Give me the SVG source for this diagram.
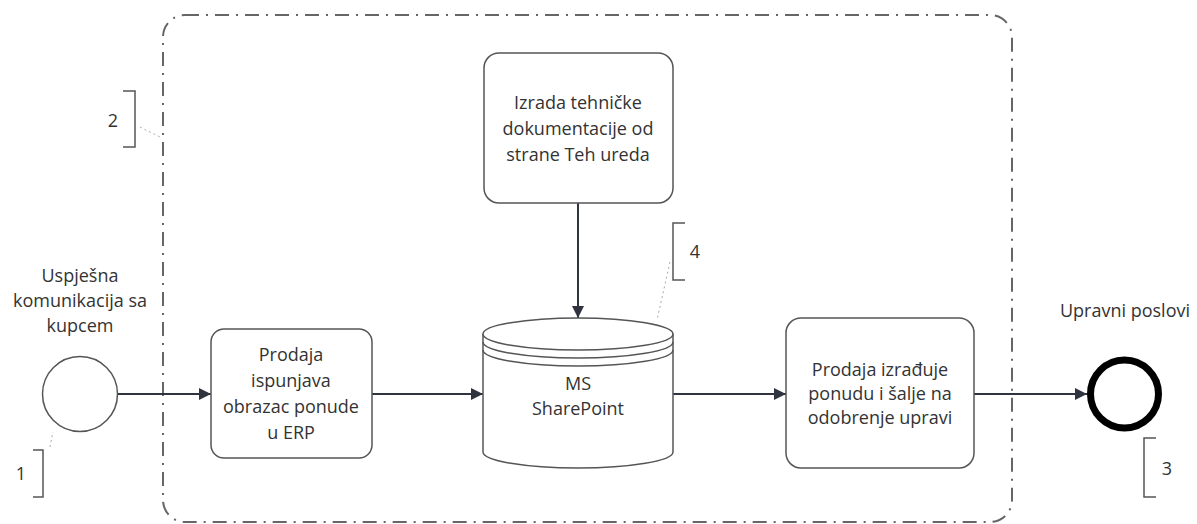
<svg xmlns="http://www.w3.org/2000/svg" width="1197" height="524" viewBox="0 0 1197 524">
<defs>
<style>
.t{font-family:"Open Sans","Noto Sans","Liberation Sans",sans-serif;font-size:18px;fill:#333;text-anchor:middle}
.box{fill:#fff;stroke:#555;stroke-width:1.5}
.conn{fill:none;stroke:#2f3440;stroke-width:2}
.br{fill:none;stroke:#555;stroke-width:1.5}
.assoc{fill:none;stroke:#aaa;stroke-width:1;stroke-dasharray:2 3}
.grp{fill:none;stroke:#666;stroke-width:2;stroke-dasharray:14 7 2 7}
</style>
<marker id="arr" markerUnits="userSpaceOnUse" markerWidth="14" markerHeight="12" refX="12" refY="6" orient="auto">
<path d="M0,0 L12,6 L0,12 Z" fill="#2f3440"/>
</marker>
</defs>
<rect width="1197" height="524" fill="#fff"/>
<g id="group">
<rect class="grp" x="163" y="15" width="849" height="507" rx="22"/>
</g>
<g id="connectors">
<line class="conn" x1="118" y1="394" x2="211" y2="394" marker-end="url(#arr)"/>
<line class="conn" x1="372" y1="394" x2="483" y2="394" marker-end="url(#arr)"/>
<line class="conn" x1="578" y1="203" x2="578" y2="318" marker-end="url(#arr)"/>
<line class="conn" x1="673" y1="394" x2="786" y2="394" marker-end="url(#arr)"/>
<line class="conn" x1="974" y1="394" x2="1087" y2="394" marker-end="url(#arr)"/>
<path class="assoc" d="M50,447 L53,432"/>
<path class="assoc" d="M140,127 L162,138"/>
<path class="assoc" d="M670,262 L657,320"/>
</g>
<g id="start">
<circle cx="80" cy="394" r="37.5" fill="#fff" stroke="#555" stroke-width="1.5"/>
<text class="t" x="80" y="282">Uspješna</text>
<text class="t" x="80" y="307">komunikacija sa</text>
<text class="t" x="80" y="332">kupcem</text>
</g>
<g id="task1">
<rect class="box" x="211" y="329" width="161" height="129" rx="13"/>
<text class="t" x="291" y="361">Prodaja</text>
<text class="t" x="291" y="387">ispunjava</text>
<text class="t" x="291" y="413">obrazac ponude</text>
<text class="t" x="291" y="439">u ERP</text>
</g>
<g id="task2">
<rect class="box" x="484" y="53" width="189" height="150" rx="15"/>
<text class="t" x="578" y="109">Izrada tehničke</text>
<text class="t" x="578" y="135">dokumentacije od</text>
<text class="t" x="578" y="161">strane Teh ureda</text>
</g>
<g id="datastore">
<path class="box" d="M483,334 L483,452 A95,16 0 0 0 673,452 L673,334"/>
<ellipse class="box" cx="578" cy="334" rx="95" ry="16"/>
<path class="br" d="M483,342 A95,16 0 0 0 673,342"/>
<path class="br" d="M483,350 A95,16 0 0 0 673,350"/>
<text class="t" x="578" y="390">MS</text>
<text class="t" x="578" y="415">SharePoint</text>
</g>
<g id="task3">
<rect class="box" x="786" y="318" width="188" height="150" rx="15"/>
<text class="t" x="880" y="376">Prodaja izrađuje</text>
<text class="t" x="880" y="400">ponudu i šalje na</text>
<text class="t" x="880" y="424">odobrenje upravi</text>
</g>
<g id="end">
<circle cx="1124.5" cy="394" r="34" fill="#fff" stroke="#000" stroke-width="7"/>
<text class="t" x="1125" y="317">Upravni poslovi</text>
</g>
<g id="ann1">
<path class="br" d="M33,450 L43,450 L43,497 L33,497"/>
<text class="t" x="21" y="480">1</text>
</g>
<g id="ann2">
<path class="br" d="M123,91 L135,91 L135,147 L123,147"/>
<text class="t" x="113" y="127">2</text>
</g>
<g id="ann3">
<path class="br" d="M1156,438 L1144,438 L1144,497 L1156,497"/>
<text class="t" x="1167" y="475">3</text>
</g>
<g id="ann4">
<path class="br" d="M685,223 L673,223 L673,280 L685,280"/>
<text class="t" x="695" y="258">4</text>
</g>
</svg>
